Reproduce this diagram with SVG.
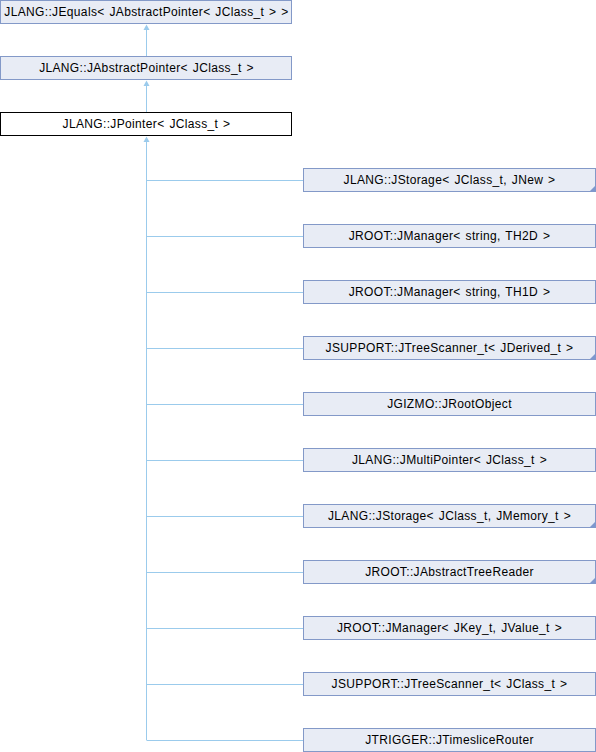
<svg xmlns="http://www.w3.org/2000/svg" width="596" height="752" viewBox="0 0 596 752">
<defs>
<style>
.box{fill:#E8ECF5;stroke:#8399C8;stroke-width:1}
.main{fill:#FFFFFF;stroke:#000000;stroke-width:1}
.t{font-family:"Liberation Sans",Arial,sans-serif;font-size:12px;letter-spacing:0.35px;word-spacing:1.2px;fill:#000000;text-anchor:middle}
.edge{stroke:#9BCBEC;stroke-width:1;fill:none}
.arr{fill:#9BCBEC;stroke:none}
.corner{fill:#7E98CE;stroke:none}
</style>
</defs>
<rect width="596" height="752" fill="#FFFFFF"/>
<g id="connectors">
<path class="edge" d="M146.5,30 V56"/>
<polygon class="arr" points="146.5,24.5 143.5,30 149.5,30"/>
<path class="edge" d="M146.5,86 V112"/>
<polygon class="arr" points="146.5,80.5 143.5,86 149.5,86"/>
<path class="edge" d="M146.5,142 V740"/>
<polygon class="arr" points="146.5,136.5 143.5,142 149.5,142"/>
<path class="edge" d="M146.5,180.5 H303 M146.5,236.5 H303 M146.5,292.5 H303 M146.5,348.5 H303 M146.5,404.5 H303 M146.5,460.5 H303 M146.5,516.5 H303 M146.5,572.5 H303 M146.5,628.5 H303 M146.5,684.5 H303 M146.5,740.5 H303"/>
</g>
<g id="n_jequals"><rect class="box" x="0.5" y="0.5" width="291" height="23"/><text class="t" x="146.5" y="16">JLANG::JEquals&lt; JAbstractPointer&lt; JClass_t &gt; &gt;</text></g>
<g id="n_jabstractpointer"><rect class="box" x="0.5" y="56.5" width="291" height="23"/><text class="t" x="146.5" y="72">JLANG::JAbstractPointer&lt; JClass_t &gt;</text></g>
<g id="n_jpointer"><rect class="main" x="0.5" y="112.5" width="291" height="23"/><text class="t" x="146.5" y="128">JLANG::JPointer&lt; JClass_t &gt;</text></g>
<g id="n_jstorage_jnew"><rect class="box" x="303.5" y="168.5" width="292" height="23"/><polygon class="corner" points="595.5,185.5 595.5,191.5 589.5,191.5"/><text class="t" x="449.5" y="184">JLANG::JStorage&lt; JClass_t, JNew &gt;</text></g>
<g id="n_jmanager_th2d"><rect class="box" x="303.5" y="224.5" width="292" height="23"/><text class="t" x="449.5" y="240">JROOT::JManager&lt; string, TH2D &gt;</text></g>
<g id="n_jmanager_th1d"><rect class="box" x="303.5" y="280.5" width="292" height="23"/><text class="t" x="449.5" y="296">JROOT::JManager&lt; string, TH1D &gt;</text></g>
<g id="n_jtreescanner_jderived"><rect class="box" x="303.5" y="336.5" width="292" height="23"/><polygon class="corner" points="595.5,353.5 595.5,359.5 589.5,359.5"/><text class="t" x="449.5" y="352">JSUPPORT::JTreeScanner_t&lt; JDerived_t &gt;</text></g>
<g id="n_jrootobject"><rect class="box" x="303.5" y="392.5" width="292" height="23"/><text class="t" x="449.5" y="408">JGIZMO::JRootObject</text></g>
<g id="n_jmultipointer"><rect class="box" x="303.5" y="448.5" width="292" height="23"/><text class="t" x="449.5" y="464">JLANG::JMultiPointer&lt; JClass_t &gt;</text></g>
<g id="n_jstorage_jmemory"><rect class="box" x="303.5" y="504.5" width="292" height="23"/><polygon class="corner" points="595.5,521.5 595.5,527.5 589.5,527.5"/><text class="t" x="449.5" y="520">JLANG::JStorage&lt; JClass_t, JMemory_t &gt;</text></g>
<g id="n_jabstracttreereader"><rect class="box" x="303.5" y="560.5" width="292" height="23"/><polygon class="corner" points="595.5,577.5 595.5,583.5 589.5,583.5"/><text class="t" x="449.5" y="576">JROOT::JAbstractTreeReader</text></g>
<g id="n_jmanager_jkey"><rect class="box" x="303.5" y="616.5" width="292" height="23"/><text class="t" x="449.5" y="632">JROOT::JManager&lt; JKey_t, JValue_t &gt;</text></g>
<g id="n_jtreescanner_jclass"><rect class="box" x="303.5" y="672.5" width="292" height="23"/><text class="t" x="449.5" y="688">JSUPPORT::JTreeScanner_t&lt; JClass_t &gt;</text></g>
<g id="n_jtimeslicerouter"><rect class="box" x="303.5" y="728.5" width="292" height="23"/><text class="t" x="449.5" y="744">JTRIGGER::JTimesliceRouter</text></g>
</svg>
